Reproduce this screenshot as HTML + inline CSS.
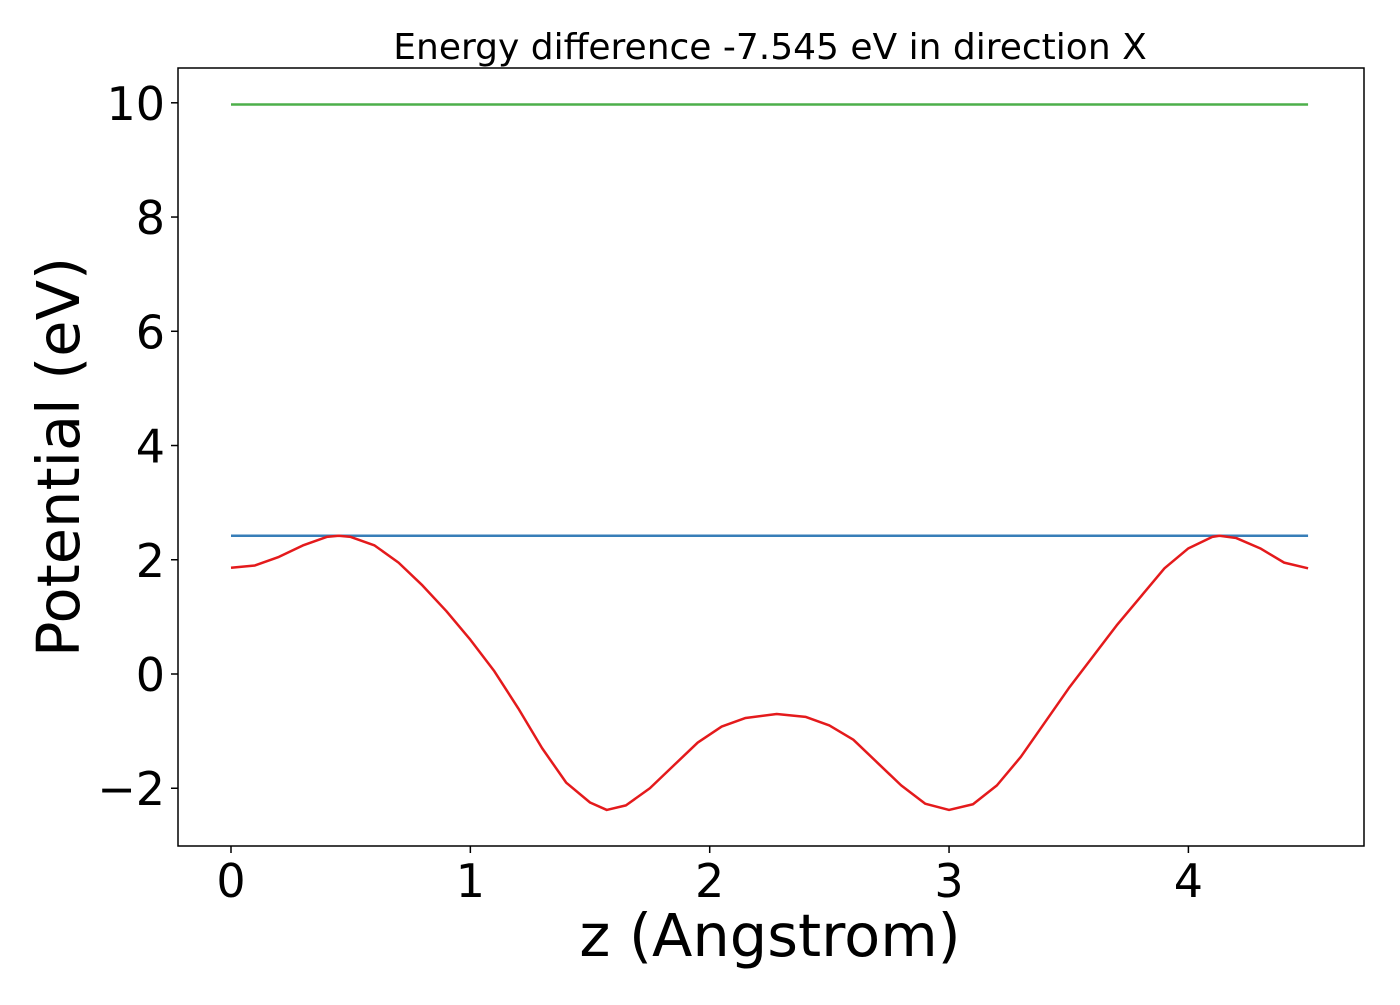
<!DOCTYPE html>
<html><head><meta charset="utf-8"><style>
body{margin:0;background:#fff;}
svg text{font-family:"DejaVu Sans","Liberation Sans",sans-serif;fill:#000;}
</style></head><body>
<svg id="chart" width="1400" height="1000" xmlns="http://www.w3.org/2000/svg">
<rect width="1400" height="1000" fill="#fff"/>
<g id="marks"></g>
<g id="axes"></g>
<text x="770" y="59" font-size="36" text-anchor="middle">Energy difference -7.545 eV in direction X</text>
<text x="770" y="956" font-size="59" text-anchor="middle">z (Angstrom)</text>
<text transform="translate(79,457) rotate(-90)" font-size="59" text-anchor="middle">Potential (eV)</text>
</svg>
<script>
const zValues=[0,0.1,0.2,0.3,0.4,0.45,0.5,0.6,0.7,0.8,0.9,1.0,1.1,1.2,1.3,1.4,1.5,1.57,1.65,1.75,1.85,1.95,2.05,2.15,2.28,2.4,2.5,2.6,2.7,2.8,2.9,3.0,3.1,3.2,3.3,3.4,3.5,3.6,3.7,3.8,3.9,4.0,4.1,4.13,4.2,4.3,4.4,4.5];
const potential=[1.86,1.9,2.05,2.25,2.4,2.42,2.4,2.25,1.95,1.55,1.1,0.6,0.05,-0.6,-1.3,-1.9,-2.25,-2.38,-2.3,-2.0,-1.6,-1.2,-0.92,-0.77,-0.7,-0.75,-0.9,-1.15,-1.55,-1.95,-2.27,-2.38,-2.28,-1.95,-1.45,-0.85,-0.25,0.3,0.85,1.35,1.85,2.2,2.4,2.42,2.38,2.2,1.95,1.85];
const vacuumLevel=[9.97,9.97];
const maxLevel=[2.42,2.42];
const lineZ=[0,4.5];
const xTicks=[0,1,2,3,4];
const yTicks=[-2,0,2,4,6,8,10];
const yTickLabels=["\u22122","0","2","4","6","8","10"];

const L=178,R=1364,T=68,B=846;
const X=v=>231+v*239.35;
const Y=v=>674-v*57.12;
const NS="http://www.w3.org/2000/svg";
const marks=document.getElementById('marks'),axes=document.getElementById('axes');
function mk(tag,attrs,parent){const e=document.createElementNS(NS,tag);for(const k in attrs)e.setAttribute(k,attrs[k]);parent.appendChild(e);return e;}
function line(xs,ys,color,name){
  const p=mk('polyline',{points:xs.map((x,i)=>X(x)+','+Y(ys[i])).join(' '),fill:'none',stroke:color,'stroke-width':2.5,'stroke-linejoin':'round'},marks);
  
  
}
line(lineZ,vacuumLevel,'#4daf4a','vacuum-level-line');
line(lineZ,maxLevel,'#377eb8','max-potential-line');
line(zValues,potential,'#e41a1c','potential-curve');
const frame=mk('rect',{x:L,y:T,width:R-L,height:B-T,fill:'none',stroke:'#000','stroke-width':1.5},axes);


xTicks.forEach(t=>{
  mk('line',{x1:X(t),x2:X(t),y1:B,y2:B+7,stroke:'#000','stroke-width':1.5},axes);
  const tx=mk('text',{x:X(t),y:B+51,'font-size':46,'text-anchor':'middle'},axes);
  tx.textContent=t;
  
  
});
yTicks.forEach((t,i)=>{
  mk('line',{x1:L-7,x2:L,y1:Y(t),y2:Y(t),stroke:'#000','stroke-width':1.5},axes);
  const tx=mk('text',{x:L-13,y:Y(t)+17,'font-size':46,'text-anchor':'end'},axes);
  tx.textContent=yTickLabels[i];
  
  
});
</script>
</body></html>
